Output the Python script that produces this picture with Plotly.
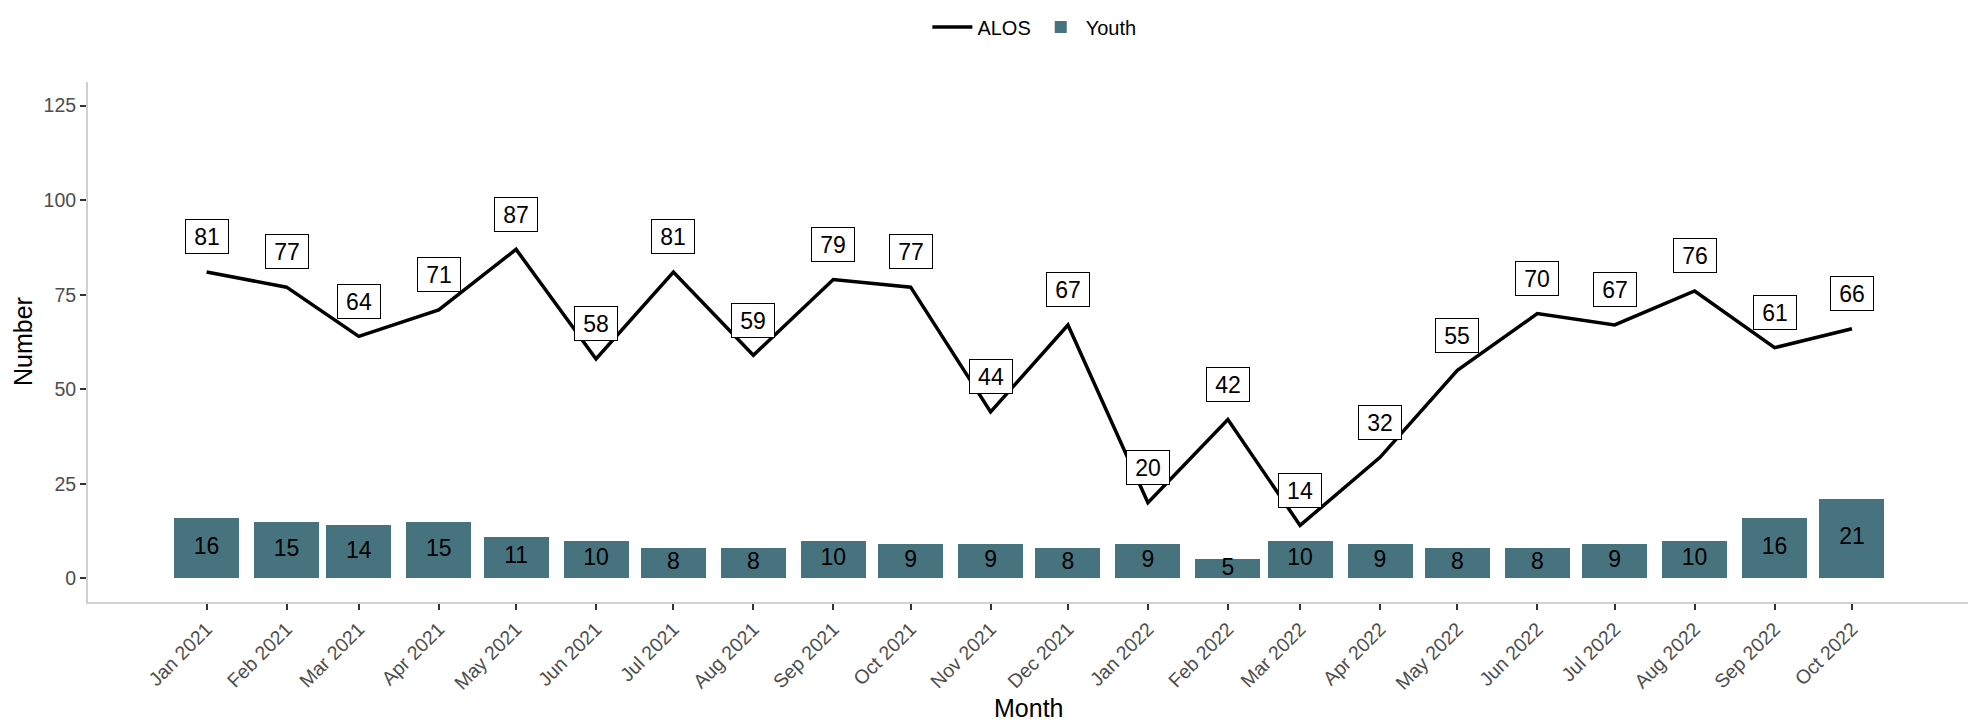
import plotly.graph_objects as go

months = ["2021-01-01","2021-02-01","2021-03-01","2021-04-01","2021-05-01","2021-06-01",
          "2021-07-01","2021-08-01","2021-09-01","2021-10-01","2021-11-01","2021-12-01",
          "2022-01-01","2022-02-01","2022-03-01","2022-04-01","2022-05-01","2022-06-01",
          "2022-07-01","2022-08-01","2022-09-01","2022-10-01"]
tick_labels = ["Jan 2021","Feb 2021","Mar 2021","Apr 2021","May 2021","Jun 2021",
               "Jul 2021","Aug 2021","Sep 2021","Oct 2021","Nov 2021","Dec 2021",
               "Jan 2022","Feb 2022","Mar 2022","Apr 2022","May 2022","Jun 2022",
               "Jul 2022","Aug 2022","Sep 2022","Oct 2022"]
alos = [81,77,64,71,87,58,81,59,79,77,44,67,20,42,14,32,55,70,67,76,61,66]
youth = [16,15,14,15,11,10,8,8,10,9,9,8,9,5,10,9,8,8,9,10,16,21]
y_ticks = [0,25,50,75,100,125]

FONT = "Liberation Sans, Arial, sans-serif"
BAR_COLOR = "#47737F"
DAY_MS = 86400000
LABEL_NUDGE = 9.3

W, H = 1974, 723
L, R, T, B = 88, 6, 82, 121
PW, PH = W - L - R, H - T - B

fig = go.Figure()
fig.add_trace(go.Bar(x=months, y=youth, name="Youth", marker=dict(color=BAR_COLOR, line=dict(width=0)),
                     width=[25.2*DAY_MS]*len(months)))
fig.add_trace(go.Scatter(x=months, y=[v/2 for v in youth], mode="text", text=[str(v) for v in youth],
                         textfont=dict(family=FONT, size=23, color="black"), showlegend=False,
                         hoverinfo="skip"))
fig.add_trace(go.Scatter(x=months, y=alos, name="ALOS", mode="lines",
                         line=dict(color="black", width=3.5)))

for m, v in zip(months, alos):
    fig.add_annotation(x=m, y=v + LABEL_NUDGE, xref="x", yref="y", text=str(v), showarrow=False,
                       font=dict(family=FONT, size=23, color="black"),
                       bgcolor="white", bordercolor="black", borderwidth=1, borderpad=3,
                       width=36, height=27)

# axis titles
fig.add_annotation(text="Month", xref="paper", yref="paper", x=0.5, y=(H - B - 708) / PH,
                   xanchor="center", yanchor="middle", showarrow=False,
                   font=dict(family=FONT, size=25, color="black"))
fig.add_annotation(text="Number", xref="paper", yref="paper", x=(23 - L) / PW, y=0.5,
                   xanchor="center", yanchor="middle", showarrow=False, textangle=-90,
                   font=dict(family=FONT, size=25, color="black"))

fig.update_layout(
    width=W, height=H,
    margin=dict(l=L, r=R, t=T, b=B, autoexpand=False),
    plot_bgcolor="white", paper_bgcolor="white",
    font=dict(family=FONT, size=20, color="black"),
    bargap=0,
    legend=dict(orientation="h", xref="container", yref="container", x=0.524, y=1-27/H,
                xanchor="center", yanchor="middle", font=dict(size=20, color="black"),
                traceorder="reversed", itemwidth=40),
    xaxis=dict(type="date", range=["2020-11-16", "2022-11-15"], tickvals=months, ticktext=tick_labels,
               tickangle=-45, tickfont=dict(size=19.5, color="#4D4D4D"), automargin=False,
               showline=True, linecolor="#D0D0D0", linewidth=2, mirror=False,
               ticks="outside", ticklen=6, tickwidth=1.5, tickcolor="#333333",
               showgrid=False, zeroline=False),
    yaxis=dict(range=[-6.25, 131.25], tickvals=y_ticks, tickfont=dict(size=19.5, color="#4D4D4D"),
               automargin=False,
               showline=True, linecolor="#D0D0D0", linewidth=2,
               ticks="outside", ticklen=6, tickwidth=1.5, tickcolor="#333333",
               showgrid=False, zeroline=False),
)

fig.write_html("out.html", config={"displayModeBar": False},
               post_script="document.body.style.margin='0px'; document.body.style.overflow='hidden';")
